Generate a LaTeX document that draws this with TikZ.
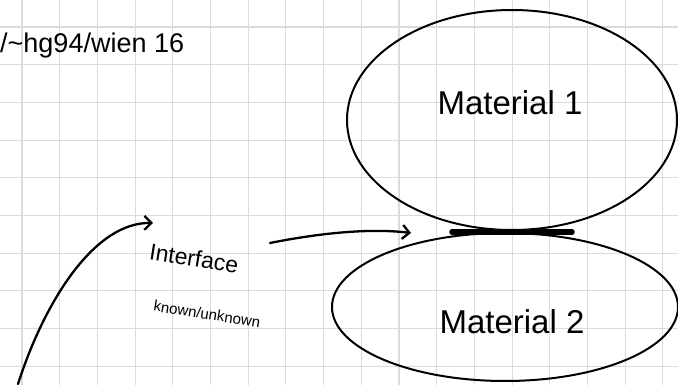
\documentclass[tikz,border=0pt]{standalone}
\usepackage{fontspec}
\setmainfont{Liberation Sans}
\usetikzlibrary{shapes.geometric,arrows.meta}
\tikzset{
  gridline/.style={draw=black!14, line width=1.1pt},
  pen/.style={draw=black, line width=2pt, line cap=round, line join=round},
  arrowpen/.style={pen, line width=2.3pt, -{Straight Barb[length=7pt,width=14pt,line width=2.3pt]}},
  blob/.style={ellipse, pen, inner sep=0pt, outer sep=0pt},
  hand/.style={inner sep=0pt, text=black},
}
\begin{document}
\begin{tikzpicture}[x=1pt,y=-1pt]
\useasboundingbox[fill=white] (0,0) rectangle (678,385);
% grid
\foreach \i in {0,...,17} \draw[gridline] ({22+37.7*\i},0) -- ({22+37.7*\i},385);
\foreach \j in {0,...,9} \draw[gridline] (0,{27+37.7*\j}) -- (678,{27+37.7*\j});
% materials
\node[blob, minimum width=330pt, minimum height=220pt] (m1) at (512,120) {};
\node[blob, minimum width=346pt, minimum height=148pt] (m2) at (505,307) {};
\node[hand, font=\fontsize{33}{36}\selectfont] (t1) at (510,103) {Material 1};
\node[hand, font=\fontsize{33}{36}\selectfont] (t2) at (512,322) {Material 2};
% interface bar
\coordinate (ib1) at (452,232);
\coordinate (ib2) at (572,232);
\draw[line width=5.5pt, line cap=round] (ib1) -- (ib2);
% labels
\node[hand, anchor=west, font=\fontsize{27}{30}\selectfont] (hdr) at (0,46) {/\textasciitilde hg94/wien 16};
\node[hand, rotate=-9, font=\fontsize{23}{26}\selectfont] (itf) at (194,258) {Interface};
\node[hand, rotate=-9, font=\fontsize{15}{17}\selectfont] (kn) at (207,314) {known/unknown};
% arrows
\coordinate (a0) at (18,384);
\coordinate (a1) at (153,223);
\draw[arrowpen] (a0) .. controls (45,300) and (95,222) .. (a1);
\coordinate (b0) at (270,243);
\coordinate (b1) at (411,233);
\draw[arrowpen] (b0) .. controls (320,233) and (370,228) .. (b1);
\end{tikzpicture}
\end{document}
